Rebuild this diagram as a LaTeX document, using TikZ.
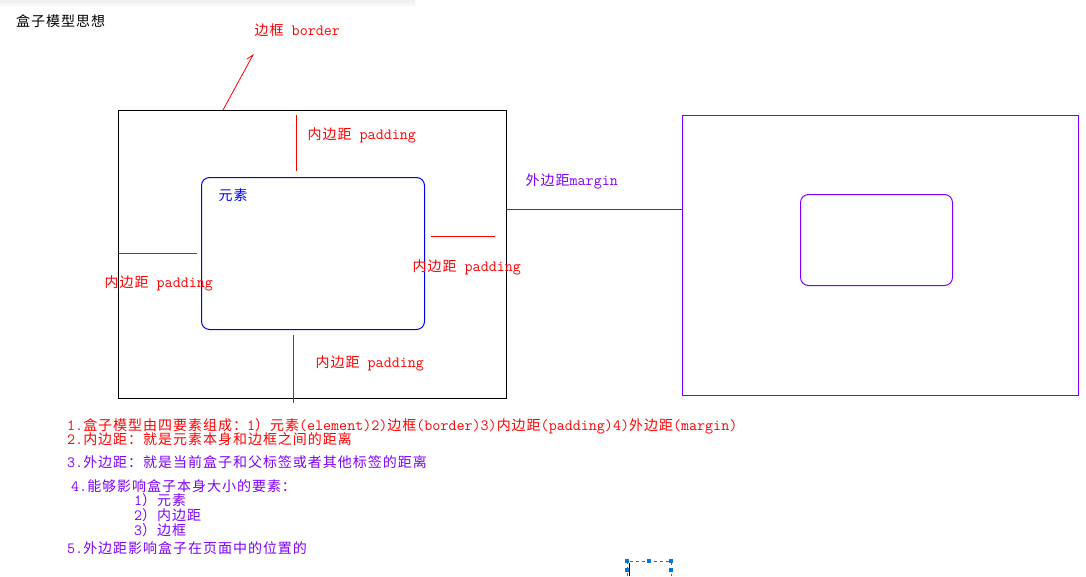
\documentclass[tikz,border=0pt]{standalone}
\usepackage{fontspec}
\setmainfont{Noto Sans CJK SC}[LetterSpace=7]
\newcommand\Lm[1]{{\ttfamily\fontsize{15.6}{15}\selectfont #1}}
\definecolor{pur}{RGB}{128,0,255}
\definecolor{selblue}{RGB}{0,120,215}
\begin{document}
\begin{tikzpicture}[x=1pt,y=-1pt,
  lbl/.style={anchor=base west, inner sep=0pt, text height=11pt, text depth=2pt, font=\fontsize{14}{15}\selectfont},
  redl/.style={draw=red, line width=1pt},
  boxb/.style={draw, line width=1pt, anchor=north west, inner sep=0pt}]
\useasboundingbox (0,0) rectangle (1086,576);
\fill[white] (0,0) rectangle (1086,576);
% top bar
\fill[gray!12] (0,0) rectangle (415,3);
\fill[gray!6] (0,3) rectangle (416,6);
% title
\node[lbl] (title) at (16,26) {盒子模型思想};
% boxes
\node[boxb, draw=black, minimum width=388, minimum height=288] (outer) at (118,110) {};
\node[boxb, draw=blue, rounded corners=8pt, minimum width=223, minimum height=152] (elem) at (201,177) {};
\node[boxb, draw=pur, minimum width=396, minimum height=280] (pbox) at (682,115) {};
\node[boxb, draw=pur, rounded corners=8pt, minimum width=152, minimum height=91] (pelem) at (800,194) {};
% border pointer
\coordinate (bA) at (223,110);
\coordinate (bB) at (253,55);
\coordinate (bC) at (247,59);
\draw[red, line width=0.8pt] (bA) -- (bB) -- (bC);
\node[lbl, text=red] (tborder) at (254.5,35.5) {边框\Lm{ border}};
% padding marks
\coordinate (pt1) at (296,115); \coordinate (pt2) at (296,171);
\draw[redl] (pt1) -- (pt2);
\coordinate (pl1) at (119,253); \coordinate (pl2) at (197,253);
\draw[redl] (pl1) -- (pl2);
\coordinate (pr1) at (431,236); \coordinate (pr2) at (495,236);
\draw[redl] (pr1) -- (pr2);
\coordinate (pb1) at (293,335); \coordinate (pb2) at (293,403);
\draw[redl] (pb1) -- (pb2);
\node[lbl, text=red] (ptop) at (307.5,139.5) {内边距\Lm{ padding}};
\node[lbl, text=red] (pleft) at (104.5,287.5) {内边距\Lm{ padding}};
\node[lbl, text=red] (pright) at (412.5,271.5) {内边距\Lm{ padding}};
\node[lbl, text=red] (pbot) at (315.5,367.5) {内边距\Lm{ padding}};
\node[lbl, text=blue] (telem) at (218.5,200.5) {元素};
% margin
\coordinate (my) at (0,209);
\draw[pur, line width=1pt] (outer.east |- my) -- (pbox.west |- my);
\node[lbl, text=pur] (tmargin) at (525.5,185.5) {外边距\Lm{margin}};
% notes
\node[lbl, text=red] (n1) at (67,430.5) {\Lm{1.}盒子模型由四要素组成：\Lm{1}）元素\Lm{(element)2)}边框\Lm{(border)3)}内边距\Lm{(padding)4)}外边距\Lm{(margin)}};
\node[lbl, text=red] (n2) at (67,444.5) {\Lm{2.}内边距：就是元素本身和边框之间的距离};
\node[lbl, text=pur] (n3) at (67,467) {\Lm{3.}外边距：就是当前盒子和父标签或者其他标签的距离};
\node[lbl, text=pur] (n4) at (71,491.5) {\Lm{4.}能够影响盒子本身大小的要素：};
\node[lbl, text=pur] (n41) at (134,505.5) {\Lm{1}）元素};
\node[lbl, text=pur] (n42) at (134,520.5) {\Lm{2}）内边距};
\node[lbl, text=pur] (n43) at (134,535.5) {\Lm{3}）边框};
\node[lbl, text=pur] (n5) at (67,553.5) {\Lm{5.}外边距影响盒子在页面中的位置的};
% selection artefact
\coordinate (s1) at (627,561); \coordinate (s2) at (671,561);
\draw[selblue, dashed, line width=0.8pt] (627,576) -- (s1) -- (s2) -- (671,576);
\draw[black, line width=1pt] (629,563) -- (629,576);
\foreach \p in {(627,561),(649,561),(671,561),(627,570),(671,570)}
  \fill[selblue] \p ++(-2,-2) rectangle ++(4,4);
\end{tikzpicture}
\end{document}
